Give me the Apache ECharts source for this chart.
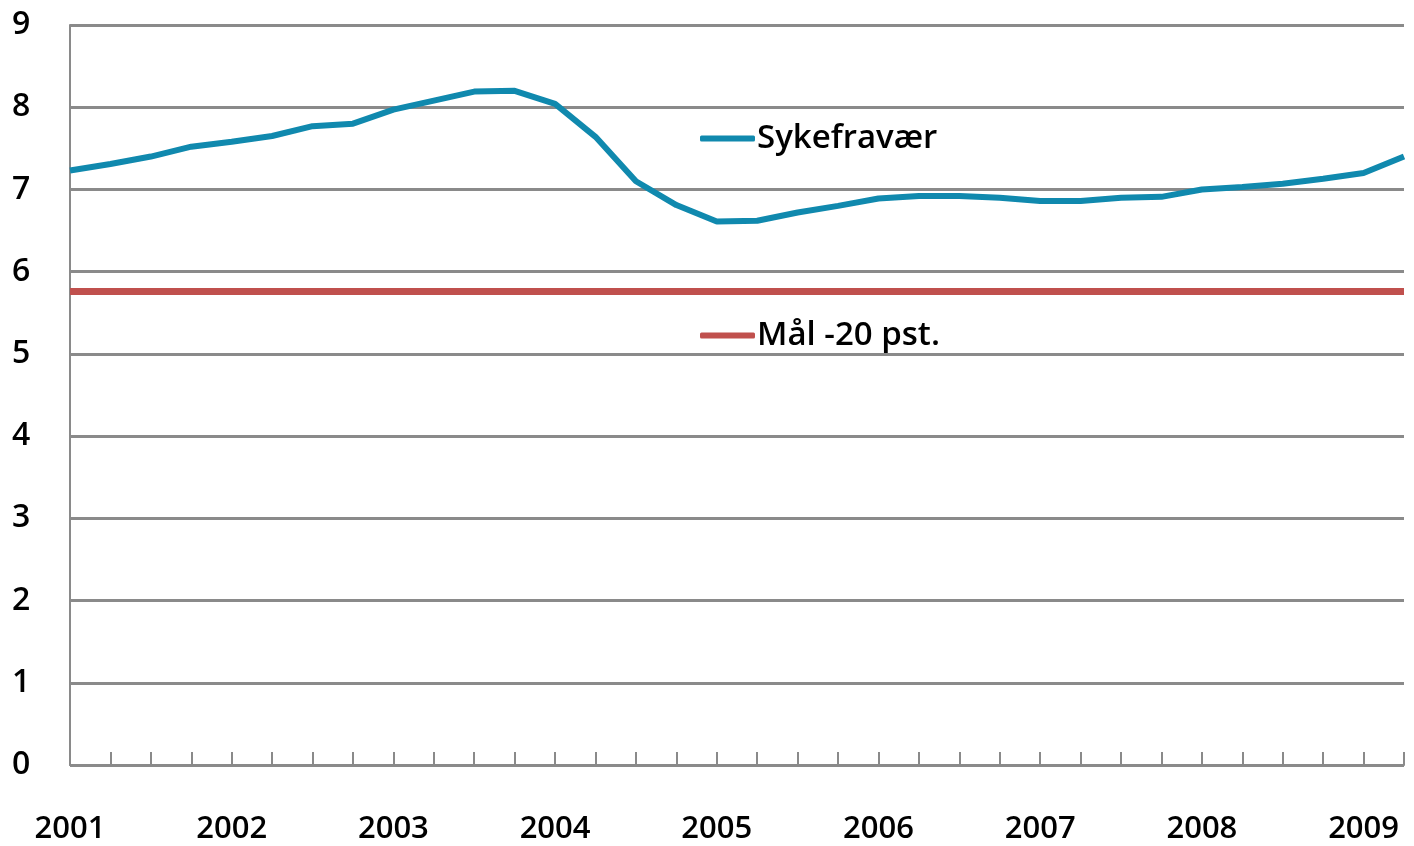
<!DOCTYPE html>
<html>
<head>
<meta charset="utf-8">
<script src="https://cdn.jsdelivr.net/npm/echarts@6/dist/echarts.min.js"></script>
<style>
  html, body { margin: 0; padding: 0; background: #fff; }
  #chart { width: 1414px; height: 846px; }
</style>
</head>
<body>
<div id="chart"></div>
<script>
// kvartaler 2001K1 - 2009K2
var quarters = [
  '2001', '2001K2', '2001K3', '2001K4',
  '2002', '2002K2', '2002K3', '2002K4',
  '2003', '2003K2', '2003K3', '2003K4',
  '2004', '2004K2', '2004K3', '2004K4',
  '2005', '2005K2', '2005K3', '2005K4',
  '2006', '2006K2', '2006K3', '2006K4',
  '2007', '2007K2', '2007K3', '2007K4',
  '2008', '2008K2', '2008K3', '2008K4',
  '2009', '2009K2'
];
var sykefravaer = [
  7.23, 7.31, 7.40, 7.52,
  7.58, 7.65, 7.77, 7.80,
  7.97, 8.08, 8.19, 8.20,
  8.04, 7.64, 7.10, 6.81,
  6.61, 6.62, 6.72, 6.80,
  6.89, 6.92, 6.92, 6.90,
  6.86, 6.86, 6.90, 6.91,
  7.00, 7.03, 7.07, 7.13,
  7.20, 7.40
];
var maal = [
  5.76, 5.76, 5.76, 5.76,
  5.76, 5.76, 5.76, 5.76,
  5.76, 5.76, 5.76, 5.76,
  5.76, 5.76, 5.76, 5.76,
  5.76, 5.76, 5.76, 5.76,
  5.76, 5.76, 5.76, 5.76,
  5.76, 5.76, 5.76, 5.76,
  5.76, 5.76, 5.76, 5.76,
  5.76, 5.76
];
var yTicks = [0, 9, 1]; // min, max, interval

var font = '"Open Sans", "Noto Sans", sans-serif';
var gridGrey = '#8a8a8a';

var myChart = echarts.init(document.getElementById('chart'));
var option = {
  animation: false,
  backgroundColor: '#fff',
  textStyle: { fontFamily: font },
  grid: { left: 70, right: 10, top: 25, bottom: 81, containLabel: false },
  // to legender, plassert inne i plottet
  legend: [
    {
      data: ['Sykefravær'],
      left: 700, top: 122, padding: 0,
      itemWidth: 55, itemHeight: 6, itemGap: 0,
      icon: 'roundRect',
      textStyle: { fontFamily: font, fontSize: 33, fontWeight: 600, color: '#000', padding: [0, 0, 0, -3] }
    },
    {
      data: ['Mål -20 pst.'],
      left: 700, top: 319, padding: 0,
      itemWidth: 55, itemHeight: 6, itemGap: 0,
      icon: 'roundRect',
      textStyle: { fontFamily: font, fontSize: 33, fontWeight: 600, color: '#000', padding: [0, 0, 0, -3] }
    }
  ],
  xAxis: {
    type: 'category',
    data: quarters,
    boundaryGap: false,
    axisLine: { lineStyle: { color: gridGrey, width: 2 } },
    axisTick: { inside: true, length: 13, interval: 0, lineStyle: { color: gridGrey, width: 2 } },
    axisLabel: {
      interval: 3,
      margin: 49,
      fontSize: 31,
      fontWeight: 600,
      color: '#000',
      fontFamily: font,
      formatter: function (v) { return v.slice(0, 4); }
    },
    splitLine: { show: false }
  },
  yAxis: {
    type: 'value',
    min: yTicks[0], max: yTicks[1], interval: yTicks[2],
    axisLine: { show: true, lineStyle: { color: gridGrey, width: 2 } },
    axisTick: { show: false },
    axisLabel: { margin: 58, fontSize: 32, fontWeight: 600, color: '#000', fontFamily: font, align: 'left' },
    splitLine: { lineStyle: { color: gridGrey, width: 3 } }
  },
  series: [
    {
      name: 'Sykefravær',
      type: 'line',
      data: sykefravaer,
      symbol: 'none',
      lineStyle: { color: '#1089ae', width: 6 },
      itemStyle: { color: '#1089ae' },
      z: 3
    },
    {
      name: 'Mål -20 pst.',
      type: 'line',
      data: maal,
      symbol: 'none',
      lineStyle: { color: '#c0504d', width: 7 },
      itemStyle: { color: '#c0504d' },
      z: 2
    }
  ]
};
myChart.setOption(option);
</script>
</body>
</html>
